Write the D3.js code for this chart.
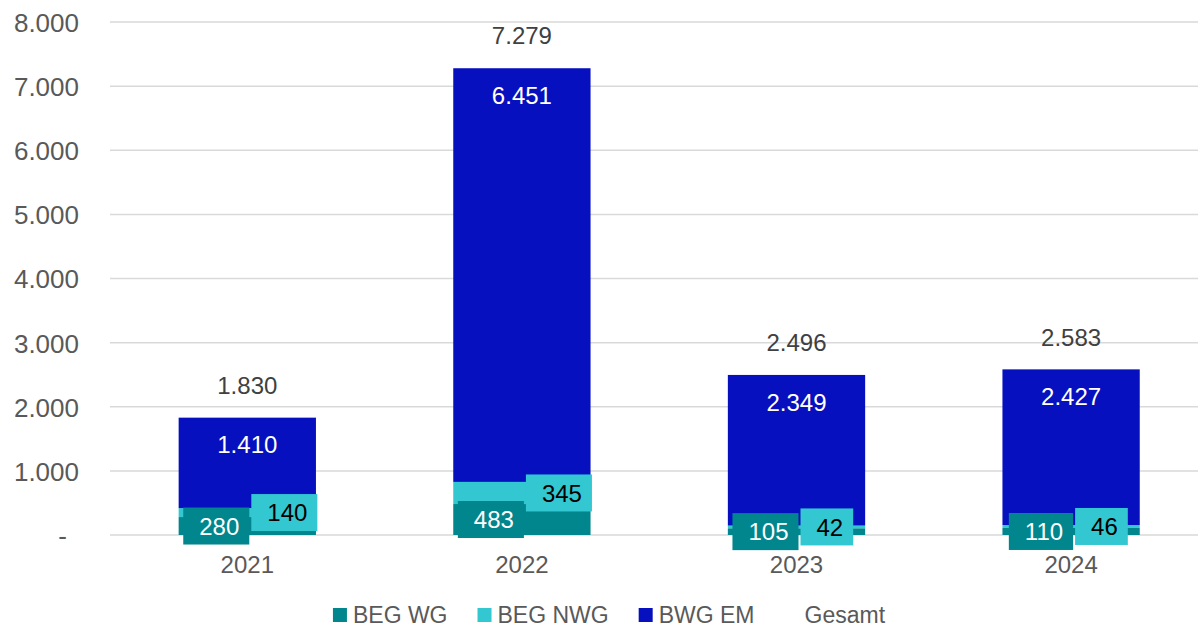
<!DOCTYPE html>
<html>
<head>
<meta charset="utf-8">
<script src="https://cdn.jsdelivr.net/npm/d3@7"></script>
<style>
  html, body { margin: 0; padding: 0; background: #fff; }
  svg { display: block; font-family: "Liberation Sans", Arial, Helvetica, sans-serif; }
</style>
</head>
<body>
<svg id="chart" width="1198" height="629"></svg>
<script>
const years = ["2021", "2022", "2023", "2024"];
const begWG = [280, 483, 105, 110];
const begNWG = [140, 345, 42, 46];
const bwgEM = [1410, 6451, 2349, 2427];
const gesamt = [1830, 7279, 2496, 2583];
const yTicks = [0, 1000, 2000, 3000, 4000, 5000, 6000, 7000, 8000];
const seriesNames = ["BEG WG", "BEG NWG", "BWG EM", "Gesamt"];
const colors = { "BEG WG": "#00868c", "BEG NWG": "#33c7d2", "BWG EM": "#0610be", "Gesamt": "none" };

const fmt = v => v === 0 ? "-" : d3.format(",")(v).replace(/,/g, ".");

const svg = d3.select("#chart");
const W = 1198, H = 629;
const x0 = 110, x1 = 1208.4;
const y = d3.scaleLinear().domain([0, 8000]).range([535, 22]);
const x = d3.scaleBand().domain(years).range([x0, x1]).paddingInner(0.5).paddingOuter(0.25);

// gridlines
svg.append("g").selectAll("line").data(yTicks).join("line")
  .attr("x1", x0).attr("x2", x1)
  .attr("y1", d => y(d)).attr("y2", d => y(d))
  .attr("stroke", "#d9d9d9").attr("stroke-width", 1.5);

// y axis labels
const yAxis = d3.axisLeft(y).tickValues(yTicks).tickFormat(fmt).tickSize(0).tickPadding(0);
const ya = svg.append("g").attr("transform", "translate(79,0)").call(yAxis);
ya.select(".domain").remove();
ya.selectAll("text").attr("font-size", 26).attr("fill", "#595959")
  .attr("font-family", "'Liberation Sans', Arial, sans-serif")
  .attr("dx", d => d === 0 ? -12 : 0).attr("dy", "0.36em");

// x axis labels
const xAxis = d3.axisBottom(x).tickSize(0).tickPadding(0);
const xa = svg.append("g").attr("transform", "translate(0,573)").call(xAxis);
xa.select(".domain").remove();
xa.selectAll("text").attr("font-size", 24).attr("fill", "#595959").attr("dy", 0)
  .attr("font-family", "'Liberation Sans', Arial, sans-serif");

// stacked data
const rows = years.map((yr, i) => ({ year: yr, "BEG WG": begWG[i], "BEG NWG": begNWG[i], "BWG EM": bwgEM[i], total: gesamt[i] }));
const stack = d3.stack().keys(["BEG WG", "BEG NWG", "BWG EM"])(rows);

const bars = svg.append("g");
stack.forEach(layer => {
  bars.selectAll(null).data(layer).join("rect")
    .attr("x", d => x(d.data.year))
    .attr("width", x.bandwidth())
    .attr("y", d => y(d[1]))
    .attr("height", d => y(d[0]) - y(d[1]))
    .attr("fill", colors[layer.key]);
});

// EM labels (inside end)
const emLayer = stack[2];
svg.append("g").selectAll("text").data(emLayer).join("text")
  .attr("x", d => x(d.data.year) + x.bandwidth() / 2)
  .attr("y", d => y(d[1]) + 27)
  .attr("dy", "0.36em")
  .attr("text-anchor", "middle")
  .attr("font-size", 24).attr("fill", "#ffffff")
  .text(d => fmt(d.data["BWG EM"]));

// total labels
svg.append("g").selectAll("text").data(rows).join("text")
  .attr("x", d => x(d.year) + x.bandwidth() / 2)
  .attr("y", d => y(d.total) - 32.5)
  .attr("dy", "0.36em")
  .attr("text-anchor", "middle")
  .attr("font-size", 24).attr("fill", "#404040")
  .text(d => fmt(d.total));

// boxed labels for small segments
function boxedLabels(layer, key, side, textColor) {
  const g = svg.append("g");
  layer.forEach(d => {
    const cx = x(d.data.year) + x.bandwidth() / 2;
    const cy = (y(d[0]) + y(d[1])) / 2;
    const grp = g.append("g");
    const rect = grp.append("rect").attr("fill", colors[key]);
    const t = grp.append("text")
      .attr("font-size", 24).attr("fill", textColor)
      .attr("text-anchor", "middle").attr("dy", "0.36em")
      .text(fmt(d.data[key]));
    const tw = t.node().getComputedTextLength();
    const bw = tw + 26, bh = 37;
    const bx = side === "left" ? cx + 2 - bw : cx + 4;
    rect.attr("x", bx).attr("y", cy - bh / 2).attr("width", bw).attr("height", bh);
    t.attr("x", bx + bw / 2 + 3).attr("y", cy);
  });
}
boxedLabels(stack[0], "BEG WG", "left", "#ffffff");
boxedLabels(stack[1], "BEG NWG", "right", "#000000");

// legend
const leg = svg.append("g");
let lx = 0;
seriesNames.forEach(name => {
  const item = leg.append("g").attr("transform", `translate(${lx},0)`);
  item.append("rect").attr("x", 0).attr("y", -7).attr("width", 14).attr("height", 14)
    .attr("fill", colors[name]);
  const t = item.append("text").attr("x", 20).attr("y", 0).attr("dy", "0.36em")
    .attr("font-size", 23).attr("fill", "#595959").text(name);
  const tw = t.node().getComputedTextLength();
  lx += 20 + tw + 30;
});
const legW = lx - 30;
leg.attr("transform", `translate(${609 - legW / 2},615)`);
</script>
</body>
</html>
